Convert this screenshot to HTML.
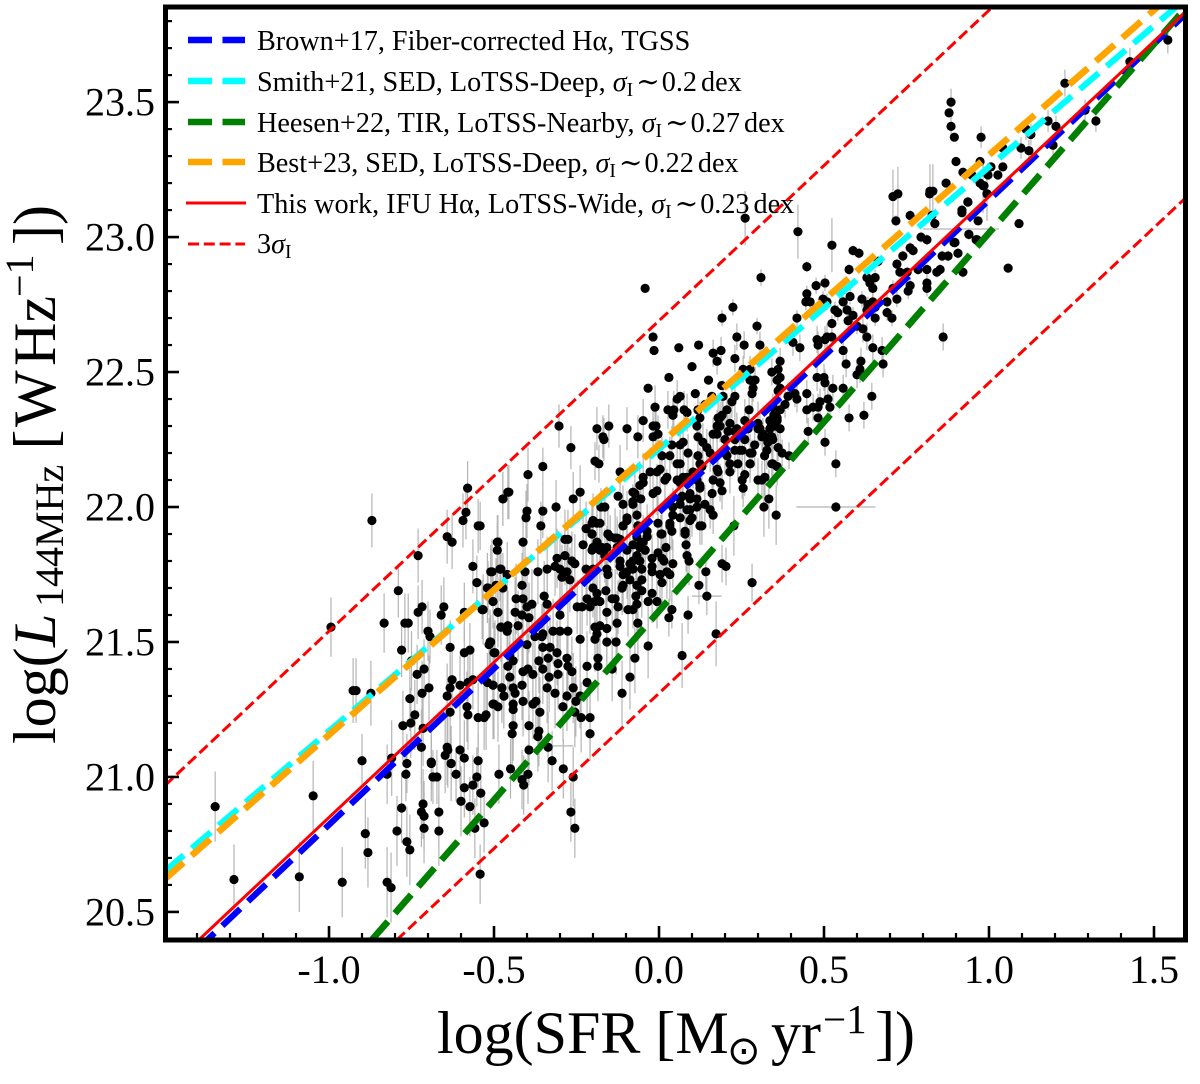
<!DOCTYPE html>
<html lang="en">
<head>
<meta charset="utf-8">
<title>Radio luminosity versus star formation rate</title>
<style>
html,body{margin:0;padding:0;background:#fff;width:1200px;height:1084px;overflow:hidden}
svg{display:block}
text{font-family:"Liberation Serif","DejaVu Serif",serif;fill:#000}
</style>
</head>
<body>
<svg id="chart" xmlns="http://www.w3.org/2000/svg" width="1200" height="1084" viewBox="0 0 1200 1084">
<defs><clipPath id="plot-clip"><rect x="165" y="7" width="1021" height="933"/></clipPath></defs>
<rect x="165" y="7" width="1021" height="933" fill="#fff"/>
<g id="error-bars" clip-path="url(#plot-clip)"></g>
<g id="points" clip-path="url(#plot-clip)"></g>
<g id="fit-lines" clip-path="url(#plot-clip)"></g>
<g id="ticks"></g>
<rect x="165.5" y="7" width="1020" height="933" fill="none" stroke="#000" stroke-width="5"/>
<g id="tick-labels" font-size="40"></g>

<text y="1053" font-size="60"><tspan x="437">log(SFR [M</tspan><tspan x="727" dy="11" font-family="DejaVu Sans" font-size="40">⊙</tspan><tspan x="771" dy="-11">yr</tspan><tspan x="823" dy="-20" font-size="41">−1</tspan><tspan x="875" dy="20">])</tspan></text>

<text transform="translate(55,744) rotate(-90)" font-size="60"><tspan x="0" y="0">log(</tspan><tspan x="97" font-style="italic">L</tspan><tspan x="137" dy="8" font-size="40">144MHz</tspan><tspan x="294.5" dy="-8">[</tspan><tspan x="317">W</tspan><tspan x="378">Hz</tspan><tspan x="447" dy="-22" font-size="40">−1</tspan><tspan x="499" dy="22">])</tspan></text>

<g font-size="28.2">
  <line x1="188" x2="245" y1="40" y2="40" stroke="#0000ff" stroke-width="6.5" stroke-dasharray="24 10.5"/>
  <text x="257" y="50">Brown+17, Fiber-corrected Hα, TGSS</text>
  <line x1="188" x2="245" y1="81" y2="81" stroke="#00ffff" stroke-width="6.5" stroke-dasharray="24 10.5"/>
  <text x="257" y="91">Smith+21, SED, LoTSS-Deep, <tspan font-style="italic">σ</tspan><tspan font-size="19.5" dy="5">I</tspan><tspan dy="-5" dx="3">∼</tspan><tspan dx="2">0.2</tspan><tspan dx="4">dex</tspan></text>
  <line x1="188" x2="245" y1="122" y2="122" stroke="#008000" stroke-width="6.5" stroke-dasharray="24 10.5"/>
  <text x="257" y="132">Heesen+22, TIR, LoTSS-Nearby, <tspan font-style="italic">σ</tspan><tspan font-size="19.5" dy="5">I</tspan><tspan dy="-5" dx="3">∼</tspan><tspan dx="2">0.27</tspan><tspan dx="4">dex</tspan></text>
  <line x1="188" x2="245" y1="162" y2="162" stroke="#ffa500" stroke-width="6.5" stroke-dasharray="24 10.5"/>
  <text x="257" y="172">Best+23, SED, LoTSS-Deep, <tspan font-style="italic">σ</tspan><tspan font-size="19.5" dy="5">I</tspan><tspan dy="-5" dx="3">∼</tspan><tspan dx="2">0.22</tspan><tspan dx="4">dex</tspan></text>
  <line x1="186" x2="246" y1="203" y2="203" stroke="#ff0000" stroke-width="3"/>
  <text x="257" y="213">This work, IFU Hα, LoTSS-Wide, <tspan font-style="italic">σ</tspan><tspan font-size="19.5" dy="5">I</tspan><tspan dy="-5" dx="3">∼</tspan><tspan dx="2">0.23</tspan><tspan dx="4">dex</tspan></text>
  <line x1="188" x2="245" y1="244" y2="244" stroke="#ff0000" stroke-width="3" stroke-dasharray="11 4.8"/>
  <text x="257" y="253">3<tspan font-style="italic">σ</tspan><tspan font-size="19.5" dy="5">I</tspan></text>
</g>
</svg>

<script>
const xMajorTicks = [-1.0, -0.5, 0.0, 0.5, 1.0, 1.5];
const yMajorTicks = [20.5, 21.0, 21.5, 22.0, 22.5, 23.0, 23.5];
const xMinorTicks = [-1.4,-1.3,-1.2,-1.1,-0.9,-0.8,-0.7,-0.6,-0.4,-0.3,-0.2,-0.1,0.1,0.2,0.3,0.4,0.6,0.7,0.8,0.9,1.1,1.2,1.3,1.4];
const yMinorTicks = [20.6,20.7,20.8,20.9,21.1,21.2,21.3,21.4,21.6,21.7,21.8,21.9,22.1,22.2,22.3,22.4,22.6,22.7,22.8,22.9,23.1,23.2,23.3,23.4,23.6,23.7,23.8];

const fitSlopes = [1.157, 1.045, 1.40, 1.074, 1.15, 1.15, 1.15];
const fitIntercepts = [21.98, 22.215, 21.615, 22.23, 22.0, 22.69, 21.31];

const sfrValues = [
-1.345,-1.288,-1.048,-1.09,-.96,-.89,-.882,-.824,-.812,-.794,
-.78,-.764,-.755,-.715,-.72,-.712,-.712,-.667,-.667,-.6,
-.59,-.573,-.564,-.552,-.54,-.558,-.53,-.542,-.415,-.41,
-.397,-.45,-.485,-.26,-.29,-.267,-.255,-.324,-.824,-.764,
-.767,-.69,-.685,-.673,-.63,-.615,-.548,-.9,-.87,-.58,
-.458,-.473,-.585,-.594,-.548,-.642,-.627,-.488,-.49,-.73,
-.564,-.51,-.479,-.552,-.518,-.494,-.503,-.79,-.718,-.73,
-.652,-.66,-.536,-.488,-.59,-.994,-.833,-.77,-.76,-.7,
-.694,-.479,-.458,-.46,-.51,-.515,-.78,-.633,-.59,-.573,
-.5,-.75,-.712,-.733,-.627,-.603,-.579,-.564,-.52,-.503,
-.476,-.633,-.918,-.927,-.873,-.697,-.718,-.642,-.755,-.47,
-.582,-.5,-.488,-.74,-.579,-.548,-.524,-.633,-.776,-.752,
-.715,-.72,-.642,-.64,-.648,-.603,-.59,-.63,-.69,-.81,
-.303,-.188,-.152,-.097,-.17,-.167,-.267,-.048,-.012,-.064,
-.018,-.009,-.018,-.003,.027,.045,.055,.076,.085,.118,
.124,.042,.179,.191,.206,.209,.185,.176,.164,.236,
.23,.27,.3,.315,.336,.348,.345,.358,.115,.118,
.133,.145,.155,.073,.088,.064,.039,.033,.009,.055,
.064,.118,.124,.103,.13,.176,.179,.215,.239,.206,
.245,.276,.276,.327,.342,.345,.358,-.194,-.182,-.352,
-.397,-.118,-.239,-.26,-.312,-.352,-.455,-.473,-.4,-.403,
-.358,-.542,-.048,-.027,.003,-.058,-.073,-.018,-.006,.018,
.055,.064,.073,.115,.124,.164,.185,.191,.161,.252,
.255,.312,.321,-.109,-.079,-.055,-.164,-.176,.07,.094,
.064,.085,.115,.139,.155,.164,.1,.042,.079,.124,
-.097,-.109,-.067,-.003,.033,.009,-.036,-.2,-.179,-.221,
-.203,-.155,-.133,-.118,-.188,-.23,-.2,-.285,-.276,-.412,
-.49,-.173,-.164,-.067,-.048,-.058,-.042,-.097,-.127,.082,
.021,-.003,.009,.085,.091,.015,.042,-.021,-.021,-.058,
-.079,-.088,-.052,-.079,-.118,-.118,-.158,-.155,-.097,-.109,
.024,.033,-.021,.003,-.052,-.088,-.109,-.112,-.067,-.052,
.009,-.07,-.021,-.161,-.188,-.2,-.133,-.142,-.179,-.194,
-.033,-.006,-.067,-.124,-.158,-.218,-.248,-.233,-.209,-.094,
-.079,.039,.03,.088,.145,.121,.142,.191,.203,.282,
.318,.333,.355,.227,-.285,-.309,-.264,-.315,-.3,-.255,
-.279,-.339,-.367,-.406,-.506,-.482,-.46,-.415,-.294,-.27,
-.2,-.221,-.52,-.473,-.433,-.412,-.348,-.385,-.4,-.339,
-.436,-.415,-.394,-.488,-.533,-.3,-.458,-.479,-.427,-.46,
-.321,-.3,-.276,-.352,-.376,-.239,-.194,-.179,-.158,-.127,
-.188,-.194,-.158,-.13,-.064,-.033,-.512,-.4,-.355,-.352,
-.33,-.309,-.279,-.364,-.336,-.306,-.452,-.442,-.458,-.497,
-.185,-.218,-.185,-.073,-.276,-.264,-.397,-.412,-.382,-.352,
-.333,-.306,-.452,-.503,-.476,-.442,-.415,-.339,-.315,-.279,
-.218,-.112,-.088,-.142,-.47,-.436,-.239,.07,.173,
-.53,-.503,-.442,-.442,-.412,-.382,-.373,-.361,-.442,-.445,
-.394,-.364,-.367,-.336,-.394,-.291,-.26,-.252,-.255,-.236,
-.209,-.209,
.261,.421,.524,.709,.724,.821,.83,.982,.994,.718,
.761,.836,.827,.936,.918,.939,.961,.794,.812,.77,
.761,.739,.721,.73,.752,.785,.812,.852,.842,.858,
.876,.897,.906,.921,.588,.606,.664,.576,.448,.309,
.503,.476,.448,.445,.458,.497,.509,.63,.655,.639,
.648,.709,.761,.812,.812,.755,.579,.558,.57,.588,
.542,.533,.615,.633,.648,.655,.63,.691,.721,.706,
.691,.655,.6,.524,.573,.418,.224,.191,.297,.236,
.258,.306,.164,.188,.176,.23,.255,.276,.367,.342,
.361,.367,.427,.406,.479,.482,.509,.524,.503,.558,
.567,.612,.609,.6,.676,.679,.648,.63,.618,.861,
.5,.503,.479,.527,.558,.448,.412,.391,.418,.361,
.645,.488,.512,.467,.448,.482,.518,.576,.621,.482,
.452,.503,.394,.536,.358,.367,.276,.291,.285,.282,
.23,.194,.221,.273,.176,.185,.215,.306,.367,.336,
.336,.367,.345,.382,.358,.352,.252,.282,.312,.33,
.361,.373,.342,.276,1.542,1.427,1.23,.885,.885,1.179,
1.203,1.324,1.291,1.112,1.127,.976,1.097,1.194,1.121,1.042,
.9,.973,1.006,1.042,.921,.948,.997,1.027,.973,.985,
.994,.936,.918,.967,1.091,.939,.964,.894,.879,.895,
.87,.82,1.058,.536,-.042,-.018,-.015,.06,.1,.064,
-.033,.03,.12,.15,.19,.11,.14,.16,
-.124,-.079,.024,-.048,-.006,-.079,.085,.124,.094,.115,
.064,.042,.094,.064,.094,.033,.13,.006,.039,.079,
-.036,-.097,-.109,-.064,-.203,-.188,-.203,-.148,-.127,-.203,
-.179,-.158,-.079,-.058,-.042,-.067,.2,.23,.26,.29,
.32,.2,.23,.26,.3,.34,.215,.26,.3
];
const lumValues = [
20.89,20.62,20.93,20.63,20.61,20.79,20.72,20.61,20.59,20.8,
20.885,20.76,20.73,20.9,20.87,20.855,20.81,20.87,20.8,20.91,
20.96,20.89,20.97,21.0,20.94,20.81,20.83,20.64,20.99,20.97,
21.01,21.03,21.01,21.0,21.03,20.87,20.81,21.06,21.01,21.05,
21.01,21.055,21.0,21.0,21.05,21.01,21.06,21.06,21.95,22.07,
22.055,22.03,21.98,21.95,21.93,21.89,21.87,21.87,21.84,21.82,
21.78,21.76,21.77,21.72,21.7,21.71,21.65,21.69,21.63,21.61,
21.63,21.6,21.62,21.61,21.61,21.555,21.57,21.57,21.57,21.54,
21.52,21.555,21.56,21.54,21.5,21.49,21.47,21.48,21.46,21.47,
21.46,21.43,21.4,21.38,21.36,21.34,21.35,21.36,21.35,21.34,
21.33,21.33,21.32,21.32,21.31,21.33,21.31,21.3,21.29,21.3,
21.26,21.27,21.26,21.23,21.23,21.22,21.23,21.24,21.19,21.2,
21.18,21.11,21.11,21.1,21.08,21.1,21.07,21.05,21.05,21.07,
22.3,22.29,22.3,22.29,22.26,22.25,22.22,22.32,22.37,22.26,
22.3,22.3,22.26,22.27,22.36,22.36,22.4,22.36,22.35,22.36,
22.33,22.34,22.33,22.34,22.36,22.28,22.3,22.27,22.27,22.29,
22.25,22.29,22.29,22.27,22.26,22.34,22.25,22.32,22.3,22.26,
22.24,22.22,22.2,22.24,22.2,22.23,22.23,22.19,22.19,22.16,
22.16,22.19,22.16,22.13,22.15,22.14,22.13,22.16,22.16,22.19,
22.21,22.2,22.16,22.21,22.26,22.16,22.15,22.17,22.16,22.15,
22.12,22.13,22.055,22.03,22.0,21.985,22.055,22.03,21.985,21.96,
21.93,21.93,22.11,22.13,22.14,22.08,22.05,22.05,22.06,22.1,
22.1,22.09,22.11,22.1,22.07,22.1,22.09,22.06,22.05,22.1,
22.07,22.1,22.11,22.01,22.01,22.03,22.0,22.0,22.04,22.03,
22.01,21.99,22.0,22.01,21.99,21.97,21.96,21.97,21.91,21.93,
21.96,21.93,21.97,21.94,21.94,21.9,21.91,21.95,21.94,21.92,
21.9,21.9,21.885,21.88,21.87,21.86,21.85,21.88,21.88,21.87,
21.87,21.85,21.82,21.89,21.87,21.85,21.84,21.84,21.85,21.86,
21.85,21.83,21.81,21.82,21.8,21.8,21.79,21.81,21.78,21.8,
21.8,21.79,21.77,21.77,21.8,21.78,21.77,21.75,21.76,21.75,
21.76,21.75,21.76,21.75,21.73,21.73,21.71,21.7,21.71,21.69,
21.72,21.67,21.68,21.69,21.68,21.7,21.66,21.66,21.65,21.65,
21.65,21.65,21.64,21.63,21.61,21.66,21.63,21.63,21.63,21.62,
21.62,21.62,21.59,21.6,21.67,21.71,21.76,21.79,21.78,21.72,
22.0,22.03,21.97,21.93,21.82,21.81,21.8,21.78,21.77,21.79,
21.76,21.77,21.76,21.76,21.76,21.77,21.75,21.71,21.74,21.73,
21.77,21.77,21.7,21.7,21.66,21.66,21.67,21.64,21.63,21.64,
21.61,21.6,21.59,21.61,21.62,21.6,21.56,21.555,21.56,21.54,
21.54,21.54,21.54,21.53,21.52,21.51,21.555,21.56,21.55,21.57,
21.53,21.51,21.5,21.5,21.57,21.485,21.5,21.49,21.52,21.48,
21.48,21.46,21.44,21.43,21.44,21.42,21.45,21.43,21.41,21.46,
21.44,21.41,21.41,21.44,21.41,21.39,21.4,21.39,21.38,21.4,
21.37,21.38,21.37,21.34,21.33,21.33,21.34,21.33,21.31,21.3,
21.35,21.31,21.37,21.4,21.3,21.31,21.3,21.45,21.53,
21.22,21.27,21.27,21.25,21.28,21.27,21.28,21.24,21.19,21.16,
21.19,21.17,21.15,21.11,21.1,21.26,21.33,21.28,21.24,21.22,
21.22,21.16,
23.07,23.02,22.97,23.15,23.16,23.17,23.17,23.19,23.16,23.06,
23.08,23.05,23.08,23.13,23.1,23.01,22.99,23.0,22.99,22.95,
22.96,22.93,22.9,22.87,22.87,22.88,22.88,22.88,22.87,22.93,
22.93,22.98,22.94,22.87,22.95,22.94,22.91,22.88,22.89,22.85,
22.83,22.82,22.79,22.76,22.76,22.77,22.76,22.85,22.85,22.83,
22.81,22.81,22.82,22.83,22.81,22.8,22.78,22.76,22.73,22.71,
22.72,22.73,22.77,22.75,22.76,22.74,22.73,22.76,22.77,22.7,
22.72,22.7,22.67,22.68,22.69,22.7,22.74,22.7,22.67,22.63,
22.6,22.6,22.57,22.58,22.54,22.55,22.51,22.51,22.54,22.5,
22.51,22.48,22.59,22.61,22.62,22.6,22.63,22.63,22.62,22.58,
22.53,22.54,22.51,22.49,22.58,22.53,22.59,22.63,22.66,22.63,
22.48,22.46,22.48,22.44,22.44,22.42,22.42,22.41,22.4,22.43,
22.41,22.39,22.4,22.37,22.36,22.37,22.37,22.33,22.34,22.33,
22.28,22.24,22.19,22.16,22.47,22.44,22.47,22.47,22.44,22.42,
22.41,22.41,22.39,22.36,22.3,22.33,22.31,22.29,22.29,22.29,
22.32,22.36,22.37,22.38,22.33,22.3,22.21,22.2,22.26,22.24,
22.22,22.2,22.16,22.16,23.73,23.65,23.57,23.5,23.41,23.43,
23.41,23.43,23.47,23.4,23.38,23.37,23.33,23.34,23.32,23.33,
23.28,23.28,23.26,23.26,23.24,23.23,23.23,23.23,23.2,23.19,
23.16,23.13,23.09,23.06,23.05,23.01,22.99,22.98,23.46,23.37,
23.2,23.16,22.885,22.0,22.81,22.63,22.58,22.59,22.52,22.41,
22.44,22.48,22.6,22.47,22.45,22.42,22.38,22.41,
22.04,22.055,22.11,22.09,22.13,22.02,22.11,22.08,22.05,22.03,
22.03,22.0,21.99,21.96,21.95,21.93,21.93,21.9,21.91,21.9,
21.89,21.95,21.93,21.93,21.94,21.94,21.9,21.89,21.885,21.84,
21.84,21.85,21.86,21.86,21.84,21.82,22.25,22.21,22.25,22.23,
22.19,22.2,22.28,22.32,22.31,22.3,22.13,22.12,22.1
];
const lumErrorsPerTenPoints = [.13,.13,.11,.11,.1,.1,.1,.11,.1,.11,.12,.13,.14,.08,.07,.06,.06,.07,.06,.07,.1,.09,.07,.07,.07,.1,.11,.1,.09,.1,.1,.11,.1,.07,.11,.12,.13,.13,.12,.12,.12,.13,.13,.12,.13,.13,.1,.02,.02,.02,.03,.03,.03,.03,.05,.05,.05,.05,.05,.05,.06,.05,.05,.04,.01,.01,.01,.01,.03,.07,.08,.08,.08,.08,.08,.08];
const horizontalBarSfr = [.915, .536, .145, -.3];
const horizontalBarLum = [23.03, 22.0, 21.67, 21.115];
const horizontalBarErr = [.115, .12, .045, .04];

const svgNS = 'http://www.w3.org/2000/svg';
const xMin = -1.497, xMax = 1.597, yMin = 20.396, yMax = 23.856;
function xScale(v){ return 165 + (v - xMin) / (xMax - xMin) * 1021; }
function yScale(v){ return 940 - (v - yMin) / (yMax - yMin) * 934; }
function make(tag, attrs, parent){
  const el = document.createElementNS(svgNS, tag);
  for (const k in attrs) el.setAttribute(k, attrs[k]);
  parent.appendChild(el);
  return el;
}
const errG = document.getElementById('error-bars');
const ptG = document.getElementById('points');
const lineG = document.getElementById('fit-lines');
const tickG = document.getElementById('ticks');
const labelG = document.getElementById('tick-labels');

const pointCount = Math.min(sfrValues.length, lumValues.length);
for (let i = 0; i < pointCount; i++) {
  const e = lumErrorsPerTenPoints[Math.floor(i / 10)] || 0;
  const bar = make('line', {x1: xScale(sfrValues[i]), x2: xScale(sfrValues[i]), y1: yScale(lumValues[i] - e), y2: yScale(lumValues[i] + e), stroke: '#b4b4b4', 'stroke-width': 1.2}, errG);
  
  
}
for (let i = 0; i < horizontalBarSfr.length; i++) {
  const hbar = make('line', {x1: xScale(horizontalBarSfr[i] - horizontalBarErr[i]), x2: xScale(horizontalBarSfr[i] + horizontalBarErr[i]), y1: yScale(horizontalBarLum[i]), y2: yScale(horizontalBarLum[i]), stroke: '#b4b4b4', 'stroke-width': 1.2}, errG);
  
  
}
for (let i = 0; i < pointCount; i++) {
  const dot = make('circle', {cx: xScale(sfrValues[i]), cy: yScale(lumValues[i]), r: 4.6, fill: '#000'}, ptG);
  
  
}

const fitColors = ['#0000ff','#00ffff','#008000','#ffa500','#ff0000','#ff0000','#ff0000'];
const fitWidths = [6.2, 6.2, 6.6, 6.6, 3, 3, 3];
const fitDashes = ['24.7 10.7','24.7 10.7','24.7 10.7','24.7 10.7','none','11 4.8','11 4.8'];
const fitDashOffsets = [14.6, 0, 0, 0, 0, 0, 0];
for (let i = 0; i < fitSlopes.length; i++) {
  const m = fitSlopes[i], b = fitIntercepts[i];
  const startX = Math.max(xMin, (yMin - b) / m);
  const endX = Math.min(xMax, (yMax - b) / m);
  const fit = make('line', {x1: xScale(startX), y1: yScale(b + m * startX), x2: xScale(endX), y2: yScale(b + m * endX), stroke: fitColors[i], 'stroke-width': fitWidths[i], 'stroke-dasharray': fitDashes[i], 'stroke-dashoffset': fitDashOffsets[i]}, lineG);
  
  
}

xMajorTicks.forEach(function(v){
  const t = make('line', {x1: xScale(v), x2: xScale(v), y1: 940, y2: 926, stroke: '#000', 'stroke-width': 2.6}, tickG);
  
  
  const l = make('text', {x: xScale(v), y: 983, 'text-anchor': 'middle'}, labelG);
  l.textContent = v.toFixed(1);
  
  
});
xMinorTicks.forEach(function(v){
  const t = make('line', {x1: xScale(v), x2: xScale(v), y1: 940, y2: 933, stroke: '#000', 'stroke-width': 2.2}, tickG);
  
  
});
yMajorTicks.forEach(function(v){
  const t = make('line', {x1: 165, x2: 179, y1: yScale(v), y2: yScale(v), stroke: '#000', 'stroke-width': 2.6}, tickG);
  
  
  const l = make('text', {x: 155, y: yScale(v) + 13.5, 'text-anchor': 'end'}, labelG);
  l.textContent = v.toFixed(1);
  
  
});
yMinorTicks.forEach(function(v){
  const t = make('line', {x1: 165, x2: 172, y1: yScale(v), y2: yScale(v), stroke: '#000', 'stroke-width': 2.2}, tickG);
  
  
});
</script>
</body>
</html>
